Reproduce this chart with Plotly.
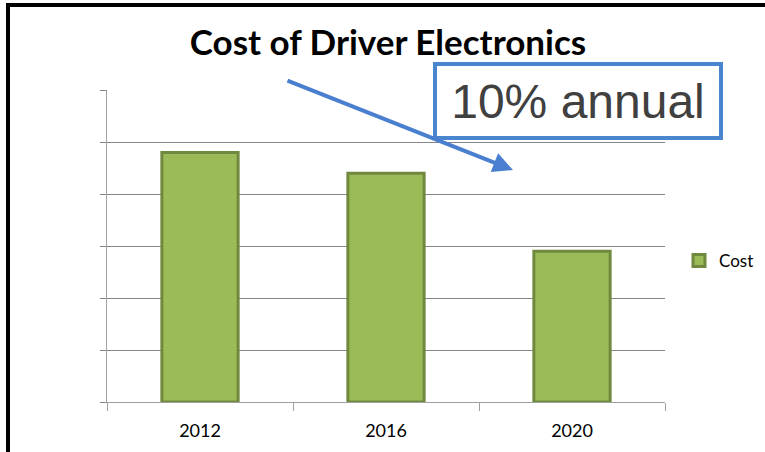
import plotly.graph_objects as go

categories = ["2012", "2016", "2020"]
cost = [4.8, 4.4, 2.9]
title_text = "Cost of Driver Electronics"
note_text = "10% annual"

W, H = 765, 452
L, R, T, B = 107, 665, 90, 402

def px(x):
    return (x - L) / (R - L)

def py(y):
    return (B - y) / (B - T)

fig = go.Figure()
fig.add_trace(go.Bar(
    x=categories, y=cost, name="Cost",
    marker=dict(color="#9bbb59", line=dict(color="#71893f", width=3)),
))

fig.update_layout(
    width=W, height=H,
    margin=dict(l=L, r=W - R, t=T, b=H - B, pad=0, autoexpand=False),
    paper_bgcolor="white", plot_bgcolor="white",
    bargap=0.59,
    showlegend=True,
    legend=dict(x=px(679), y=py(261), xanchor="left", yanchor="middle",
                font=dict(family="Lato", size=17, color="#000000"),
                bgcolor="rgba(0,0,0,0)", itemwidth=30),
    title=dict(text=title_text, x=px(390), xanchor="center", y=1 - 43 / H, yanchor="middle",
               font=dict(family="Lato", size=35, color="#000000", weight="bold")),
    xaxis=dict(showgrid=False, showline=True, linecolor="#a0a0a0", linewidth=1,
               ticks="outside", tickson="boundaries", ticklen=8, tickcolor="#a0a0a0",
               ticklabelstandoff=12,
               tickfont=dict(family="Lato", size=18, color="#000000"), fixedrange=True),
    yaxis=dict(range=[0, 6], dtick=1, showgrid=True, gridcolor="#868686", gridwidth=1,
               showline=True, linecolor="#a0a0a0", linewidth=1,
               ticks="outside", ticklen=6, tickcolor="#868686",
               showticklabels=False, zeroline=False),
    shapes=[
        dict(type="line", xref="paper", yref="paper", x0=px(8), x1=px(8), y0=py(3), y1=py(460),
             line=dict(color="black", width=4)),
        dict(type="line", xref="paper", yref="paper", x0=px(6), x1=px(770), y0=py(5), y1=py(5),
             line=dict(color="black", width=4)),
    ],
    annotations=[
        dict(text=note_text, xref="paper", yref="paper", x=px(578), y=py(101),
             xanchor="center", yanchor="middle", showarrow=False,
             font=dict(family="Liberation Sans", size=48, color="#404040"),
             bordercolor="#4a86d0", borderwidth=4, borderpad=4, bgcolor="white",
             width=274, height=62),
        dict(text="", xref="paper", yref="paper", x=px(513), y=py(170),
             axref="pixel", ayref="pixel", ax=286 - 513, ay=80 - 170,
             showarrow=True, arrowhead=2, arrowsize=1, arrowwidth=4, arrowcolor="#4a7fcf"),
    ],
)

fig.write_html("out.html")
